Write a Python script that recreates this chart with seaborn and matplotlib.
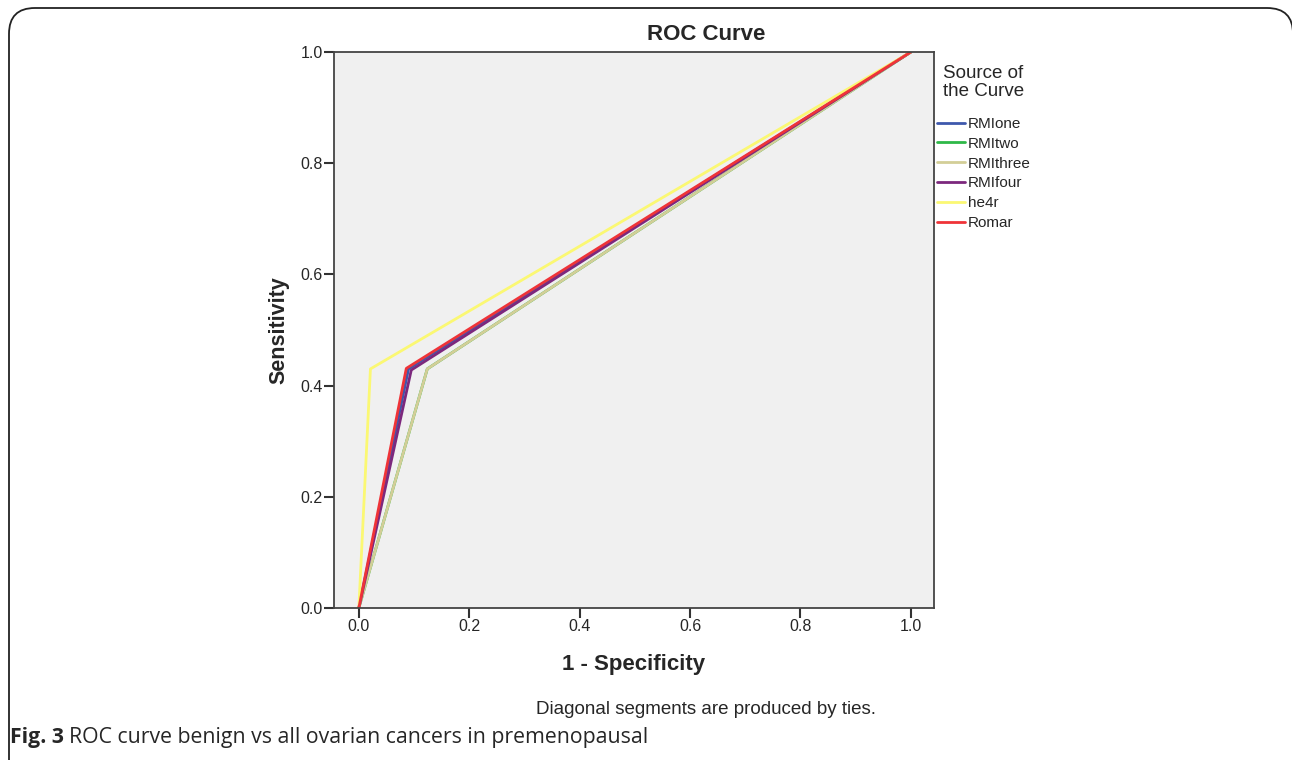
import matplotlib
matplotlib.use("Agg")
import matplotlib.pyplot as plt
import seaborn as sns
import pandas as pd
from matplotlib.patches import FancyBboxPatch

# ---- data ----
curves = ["RMIone", "RMItwo", "RMIthree", "RMIfour", "he4r", "Romar"]
legend_labels = ["RMIone", "RMItwo", "RMIthree", "RMIfour", "he4r", "Romar"]
fpr_rmione = [0.0, 0.090, 1.0]
tpr_rmione = [0.0, 0.430, 1.0]
fpr_rmitwo = [0.0, 0.124, 1.0]
tpr_rmitwo = [0.0, 0.430, 1.0]
fpr_rmithree = [0.0, 0.124, 1.0]
tpr_rmithree = [0.0, 0.430, 1.0]
fpr_rmifour = [0.0, 0.095, 1.0]
tpr_rmifour = [0.0, 0.428, 1.0]
fpr_he4r = [0.0, 0.021, 1.0]
tpr_he4r = [0.0, 0.430, 1.0]
fpr_romar = [0.0, 0.086, 1.0]
tpr_romar = [0.0, 0.431, 1.0]
colors = ["#3E58AC", "#2EB848", "#D3CE97", "#7C287D", "#FBF873", "#EF3338"]
ticks = [0.0, 0.2, 0.4, 0.6, 0.8, 1.0]
tick_labels = ["0.0", "0.2", "0.4", "0.6", "0.8", "1.0"]

series = {
    "RMIone": (fpr_rmione, tpr_rmione),
    "RMItwo": (fpr_rmitwo, tpr_rmitwo),
    "RMIthree": (fpr_rmithree, tpr_rmithree),
    "RMIfour": (fpr_rmifour, tpr_rmifour),
    "he4r": (fpr_he4r, tpr_he4r),
    "Romar": (fpr_romar, tpr_romar),
}
rows = []
for name in curves:
    fx, ty = series[name]
    for i, (a, b) in enumerate(zip(fx, ty)):
        rows.append({"curve": name, "fpr": a, "tpr": b, "order": i})
df = pd.DataFrame(rows)

sns.set_theme(style="white")
plt.rcParams["font.family"] = ["Liberation Sans", "DejaVu Sans"]

fig = plt.figure(figsize=(12.92, 7.6), dpi=100)
ax = fig.add_axes([334 / 1292, 1 - 608 / 760, 600 / 1292, 556 / 760])
ax.set_facecolor("#F0F0F0")

sns.lineplot(data=df, x="fpr", y="tpr", hue="curve", hue_order=curves,
             palette=dict(zip(curves, colors)), sort=False, estimator=None,
             units="curve", linewidth=2.0, ax=ax, legend=True)

ax.set_xlim(-0.045, 1.042)
ax.set_ylim(0.0, 1.0)
ax.set_xticks(ticks)
ax.set_xticklabels(tick_labels)
ax.set_yticks(ticks)
ax.set_yticklabels(tick_labels)
ax.tick_params(axis="both", which="major", direction="out", length=7, width=1.5,
               color="#333333", labelsize=11.5, pad=1, bottom=True, left=True)
for s in ax.spines.values():
    s.set_color("#444444")
    s.set_linewidth(1.3)

ax.set_xlabel("1 - Specificity", fontsize=16, fontweight="bold", labelpad=14)
ax.set_ylabel("Sensitivity", fontsize=15.5, fontweight="bold", labelpad=8)

fig.text(706 / 1292, 1 - 35 / 760, "ROC Curve", ha="center", va="center",
         fontsize=16, fontweight="bold")

# legend title
fig.text(943 / 1292, 1 - 65 / 760, "Source of\nthe Curve", ha="left", va="top",
         fontsize=13.5, linespacing=1.1)

handles, labels = ax.get_legend_handles_labels()
leg = ax.legend(handles, legend_labels,
                loc="upper left", bbox_to_anchor=(937 / 1292, 1 - 117 / 760),
                bbox_transform=fig.transFigure, frameon=False, fontsize=11,
                handlelength=1.8, handletextpad=0.2,
                labelspacing=0.38, borderpad=0, borderaxespad=0)
for ln in leg.get_lines():
    ln.set_linewidth(2.0)

fig.text(706 / 1292, 1 - 710 / 760, "Diagonal segments are produced by ties.",
         ha="center", va="center", fontsize=13.5)

cap = fig.text(10 / 1292, 1 - 738 / 760, "Fig. 3", ha="left", va="center",
               fontsize=15.3, fontweight="bold", family=["Open Sans", "DejaVu Sans"])
fig.canvas.draw()
bb = cap.get_window_extent()
fig.text((bb.x1 + 5) / 1292, 1 - 738 / 760,
         "ROC curve benign vs all ovarian cancers in premenopausal",
         ha="left", va="center", fontsize=15.3, family=["Open Sans", "DejaVu Sans"])

border = FancyBboxPatch((9 / 1292, -0.1), (1293 - 9) / 1292, 1.1 - 8 / 760,
                        boxstyle="round,pad=0,rounding_size=0.02",
                        transform=fig.transFigure, fill=False,
                        edgecolor="#222222", linewidth=1.3, clip_on=False,
                        mutation_aspect=1292 / 760)
fig.patches.append(border)

fig.savefig("out.png", dpi=100)
